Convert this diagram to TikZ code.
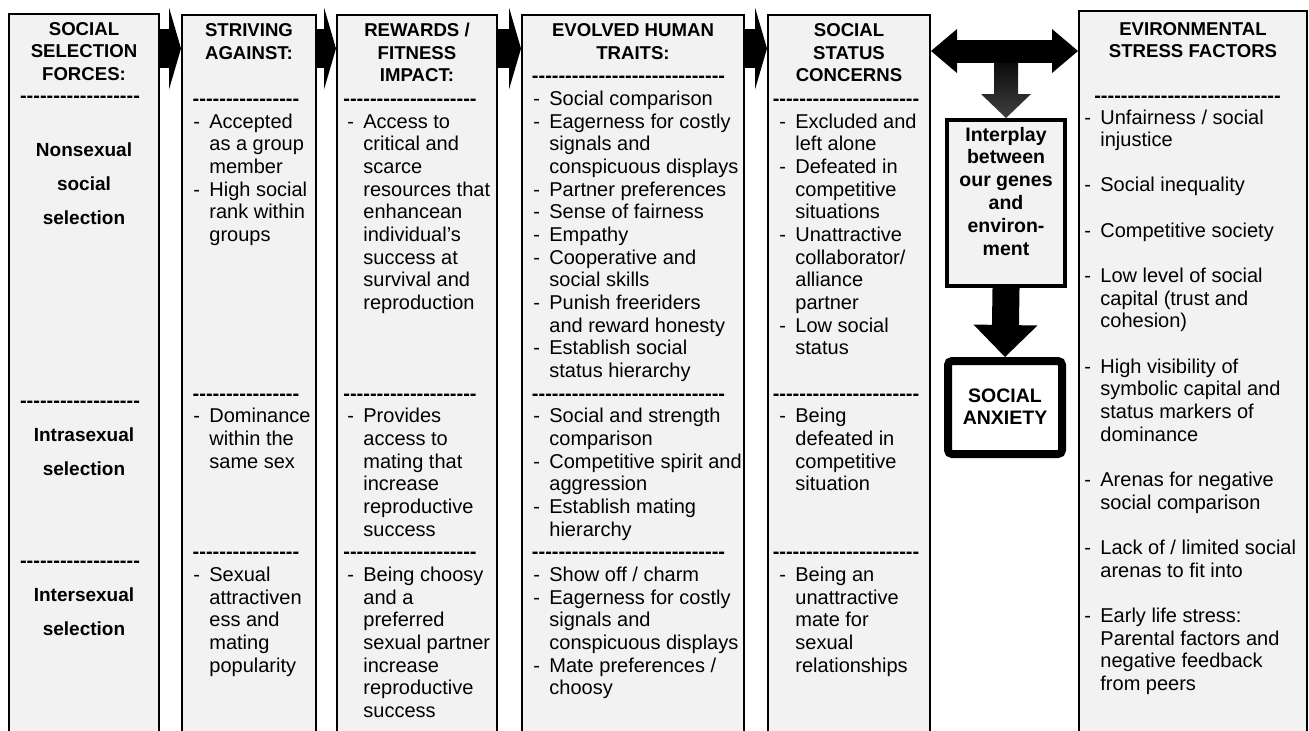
\documentclass[tikz,border=0pt]{standalone}
\usepackage{fontspec}
\setmainfont{Liberation Sans}[Ligatures=TeXOff]
\usetikzlibrary{arrows.meta, calc, fit, positioning}
\pgfdeclarelayer{bg}
\pgfsetlayers{bg,main}
\newcommand{\stack}[1]{\begin{tabular}[t]{@{}c@{}}#1\end{tabular}}
\newcommand{\dlist}[1]{\begin{tabular}[t]{@{}p{8pt}@{}l@{}}#1\end{tabular}}
\newcommand{\dashes}[1]{\foreach \n in {1,...,#1}{-}}
\tikzset{
	col/.style = {rectangle, draw = black, line width = 1pt, fill = gray!10, inner sep = 0pt},
	hdr/.style = {anchor = base, inner sep = 0pt, font = \bfseries\fontsize{9.3}{11.33}\selectfont},
	lbl/.style = {anchor = base, inner sep = 0pt, font = \bfseries\fontsize{9.5}{17}\selectfont},
	sep/.style = {anchor = base, inner sep = 0pt, font = \bfseries\fontsize{10}{11.33}\selectfont},
	items/.style = {anchor = base west, inner sep = 0pt, font = \fontsize{10}{11.33}\selectfont},
	mid/.style = {rectangle, draw = black, line width = 2pt, fill = gray!10, inner sep = 0pt},
	anx/.style = {rectangle, draw = black, line width = 4pt, rounded corners = 2pt, fill = white, inner sep = 0pt},
	midtext/.style = {anchor = base, inner sep = 0pt, font = \bfseries\fontsize{9.75}{11.4}\selectfont},
	colarrow/.style = {draw = black, line width = 19.5pt, -{Triangle[length = 6pt, width = 41pt, line width = 0pt]}},
	dblarrow/.style = {draw = black, line width = 11.5pt, {Triangle[length = 13pt, width = 22pt, line width = 0pt]}-{Triangle[length = 13pt, width = 22pt, line width = 0pt]}},
	downarrow/.style = {draw = black, line width = 13.5pt, -{Triangle[length = 16pt, width = 32pt, line width = 0pt]}}
}

\begin{document}
\begin{tikzpicture}[x = 0.5pt, y = -0.5pt]

	\useasboundingbox (0,0) rectangle (1309,730);

	% column boxes
	\begin{pgfonlayer}{bg}
		\fill [white] (0,0) rectangle (1309,730);
		\node (c1) [col, fit = {(9,13.5) (159,745)}] {};
		\node (c2) [col, fit = {(182,15) (316,745)}] {};
		\node (c3) [col, fit = {(337,15) (497,745)}] {};
		\node (c4) [col, fit = {(522,15) (744,745)}] {};
		\node (c5) [col, fit = {(768,15) (930,745)}] {};
		\node (c7) [col, fit = {(1079,11) (1307,745)}] {};
	\end{pgfonlayer}

	% header nodes
	\node (h1) [hdr] at (c1 |- 0,35) {\stack{SOCIAL\\SELECTION\\FORCES:}};
	\node (h2) [hdr] at (c2 |- 0,36.5) {\stack{STRIVING\\AGAINST:}};
	\node (h3) [hdr] at (c3 |- 0,36.5) {\stack{REWARDS /\\FITNESS\\IMPACT:}};
	\node (h4) [hdr] at (c4 |- 0,36.5) {\stack{EVOLVED HUMAN\\TRAITS:}};
	\node (h5) [hdr] at (c5 |- 0,36.5) {\stack{SOCIAL\\STATUS\\CONCERNS}};
	\node (h7) [hdr] at (c7 |- 0,35) {\stack{EVIRONMENTAL\\STRESS FACTORS}};

	% dash lines
	\node (s1a) [sep] at (80,102.5) {\dashes{18}};
	\node (s1b) [sep] at (80,407) {\dashes{18}};
	\node (s1c) [sep] at (80,567.5) {\dashes{18}};
	\node (s2a) [sep] at (246,105.5) {\dashes{16}};
	\node (s2b) [sep] at (246,400.2) {\dashes{16}};
	\node (s2c) [sep] at (246,558.9) {\dashes{16}};
	\node (s3a) [sep] at (410,105.5) {\dashes{20}};
	\node (s3b) [sep] at (410,400.2) {\dashes{20}};
	\node (s3c) [sep] at (410,558.9) {\dashes{20}};
	\node (s4a) [sep] at (628.5,82.8) {\dashes{29}};
	\node (s4b) [sep] at (628.5,400.2) {\dashes{29}};
	\node (s4c) [sep] at (628.5,558.9) {\dashes{29}};
	\node (s5a) [sep] at (846,105.5) {\dashes{22}};
	\node (s5b) [sep] at (846,400.2) {\dashes{22}};
	\node (s5c) [sep] at (846,558.9) {\dashes{22}};
	\node (s7a) [sep] at (1187.5,102.5) {\dashes{28}};

	% selection forces
	\node (l1) [lbl] at (c1 |- 0,156) {\stack{Nonsexual\\social\\selection}};
	\node (l2) [lbl] at (c1 |- 0,441) {\stack{Intrasexual\\selection}};
	\node (l3) [lbl] at (c1 |- 0,601) {\stack{Intersexual\\selection}};

	% striving against
	\node (i2a) [items] at (193,128.2) {\dlist{- & Accepted\\ & as a group\\ & member\\ - & High social\\ & rank within\\ & groups}};
	\node (i2b) [items] at (193,422.9) {\dlist{- & Dominance\\ & within the\\ & same sex}};
	\node (i2c) [items] at (193,581.6) {\dlist{- & Sexual\\ & attractiven\\ & ess and\\ & mating\\ & popularity}};

	% rewards
	\node (i3a) [items] at (347,128.2) {\dlist{- & Access to\\ & critical and\\ & scarce\\ & resources that\\ & enhancean\\ & individual’s\\ & success at\\ & survival and\\ & reproduction}};
	\node (i3b) [items] at (347,422.9) {\dlist{- & Provides\\ & access to\\ & mating that\\ & increase\\ & reproductive\\ & success}};
	\node (i3c) [items] at (347,581.6) {\dlist{- & Being choosy\\ & and a\\ & preferred\\ & sexual partner\\ & increase\\ & reproductive\\ & success}};

	% traits
	\node (i4a) [items] at (533,105.5) {\dlist{- & Social comparison\\ - & Eagerness for costly\\ & signals and\\ & conspicuous displays\\ - & Partner preferences\\ - & Sense of fairness\\ - & Empathy\\ - & Cooperative and\\ & social skills\\ - & Punish freeriders\\ & and reward honesty\\ - & Establish social\\ & status hierarchy}};
	\node (i4b) [items] at (533,422.9) {\dlist{- & Social and strength\\ & comparison\\ - & Competitive spirit and\\ & aggression\\ - & Establish mating\\ & hierarchy}};
	\node (i4c) [items] at (533,581.6) {\dlist{- & Show off / charm\\ - & Eagerness for costly\\ & signals and\\ & conspicuous displays\\ - & Mate preferences /\\ & choosy}};

	% status concerns
	\node (i5a) [items] at (779,128.2) {\dlist{- & Excluded and\\ & left alone\\ - & Defeated in\\ & competitive\\ & situations\\ - & Unattractive\\ & collaborator/\\ & alliance\\ & partner\\ - & Low social\\ & status}};
	\node (i5b) [items] at (779,422.9) {\dlist{- & Being\\ & defeated in\\ & competitive\\ & situation}};
	\node (i5c) [items] at (779,581.6) {\dlist{- & Being an\\ & unattractive\\ & mate for\\ & sexual\\ & relationships}};

	% stress factors
	\node (i7) [items] at (1084,124) {\dlist{- & Unfairness / social\\ & injustice\\ & \\ - & Social inequality\\ & \\ - & Competitive society\\ & \\ - & Low level of social\\ & capital (trust and\\ & cohesion)\\ & \\ - & High visibility of\\ & symbolic capital and\\ & status markers of\\ & dominance\\ & \\ - & Arenas for negative\\ & social comparison\\ & \\ - & Lack of / limited social\\ & arenas to fit into\\ & \\ - & Early life stress:\\ & Parental factors and\\ & negative feedback\\ & from peers}};

	% middle boxes
	\node (ip) [mid, fit = {(947,120) (1065,286)}] {};
	\node (ipt) [midtext] at (ip |- 0,141) {\stack{Interplay\\between\\our genes\\and\\environ-\\ment}};
	\node (sa) [anx, fit = {(948,361) (1062,454)}] {};
	\node (sat) [midtext] at (sa |- 0,402) {\stack{SOCIAL\\ANXIETY}};

	%%% arrows %%%
	\coordinate (ay) at (0,48.5);
	\coordinate (ty) at (0,51);
	\draw [colarrow] ($(c1.east |- ay) + (-2,0)$) -- (c2.west |- ay);
	\draw [colarrow] ($(c2.east |- ay) + (-2,0)$) -- (c3.west |- ay);
	\draw [colarrow] ($(c3.east |- ay) + (-2,0)$) -- (c4.west |- ay);
	\draw [colarrow] ($(c4.east |- ay) + (-2,0)$) -- (c5.west |- ay);

	\coordinate (tj) at (ip.north |- ty);
	\shade [top color = black, bottom color = black!75] ($(tj) + (-12,0)$) -- ($(tj) + (-12,43)$) -- ($(tj) + (-25,43)$) -- (ip.north) -- ($(tj) + (25,43)$) -- ($(tj) + (12,43)$) -- ($(tj) + (12,0)$) -- cycle;
	\draw [dblarrow] (c5.east |- ty) -- (c7.west |- ty);
	\draw [downarrow] (ip.south) -- (sa.north);

\end{tikzpicture}
\end{document}
